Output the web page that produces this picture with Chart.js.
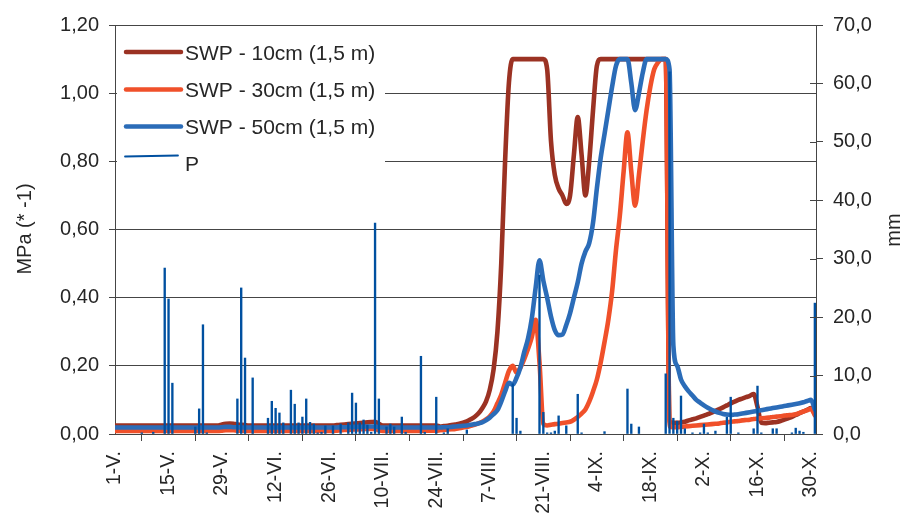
<!DOCTYPE html>
<html>
<head>
<meta charset="utf-8">
<script src="https://cdn.jsdelivr.net/npm/chart.js@4.4.1/dist/chart.umd.min.js"></script>
<style>
  html, body { margin: 0; padding: 0; background: #fff; }
  #wrap { width: 901px; height: 514px; position: relative; }
</style>
</head>
<body>
<div id="wrap"><canvas id="swp-chart"></canvas></div>
<script>
// Dni sezony: index 0 = 1-V., 183 = 31-X.
const tickLabels = ['1-V.', '15-V.', '29-V.', '12-VI.', '26-VI.', '10-VII.', '24-VII.',
    '7-VIII.', '21-VIII.', '4-IX.', '18-IX.', '2-X.', '16-X.', '30-X.'];

const seriesNames = ['SWP - 10cm (1,5 m)', 'SWP - 30cm (1,5 m)', 'SWP - 50cm (1,5 m)', 'P'];

// SWP - 10cm, MPa (* -1), denne hodnoty
const swp10 = [
    0.025, 0.025, 0.025, 0.025, 0.025, 0.025, 0.025, 0.025, 0.025, 0.025,
    0.025, 0.025, 0.025, 0.025, 0.025, 0.025, 0.025, 0.025, 0.025, 0.025,
    0.025, 0.025, 0.025, 0.025, 0.025, 0.025, 0.025, 0.025,
    0.028, 0.030, 0.031, 0.030, 0.028, 0.027, 0.026,
    0.025, 0.025, 0.025, 0.025, 0.025, 0.025, 0.025, 0.025, 0.025, 0.025,
    0.025, 0.025, 0.025, 0.025, 0.025, 0.025, 0.025, 0.025, 0.025, 0.025,
    0.025, 0.025, 0.025,
    0.026, 0.027, 0.028, 0.029, 0.030, 0.031, 0.032, 0.033, 0.034, 0.035, 0.036, 0.030,
    0.025, 0.025, 0.025, 0.025, 0.025, 0.025, 0.025, 0.025, 0.025, 0.025,
    0.025, 0.025, 0.025, 0.025, 0.025,
    0.022, 0.023, 0.024, 0.026, 0.028,
    0.030, 0.033, 0.037, 0.043, 0.050, 0.060, 0.075, 0.095, 0.130, 0.190,
    0.300, 0.500, 0.800, 1.030, 1.100, 1.100, 1.100, 1.100, 1.100, 1.100,
    1.100, 1.100, 1.100, 1.070, 0.860, 0.760, 0.720, 0.700, 0.675, 0.700,
    0.820, 0.930, 0.820, 0.700, 0.800, 0.950, 1.080, 1.100, 1.100, 1.100,
    1.100, 1.100, 1.100, 1.100, 1.100, 1.100, 1.100, 1.100, 1.100, 1.100,
    1.100, 1.100, 1.100, 1.100, 1.100,
    0.035, 0.033, 0.033, 0.034, 0.036,
    0.040, 0.043, 0.046, 0.050, 0.054, 0.058, 0.063, 0.068, 0.073, 0.078,
    0.084, 0.090, 0.095, 0.100, 0.104, 0.108, 0.112, 0.117, 0.080, 0.033,
    0.032, 0.033, 0.034, 0.035, 0.038, 0.042, 0.046, 0.050, 0.056, 0.061,
    0.066, 0.071, 0.076, 0.058
];

// SWP - 30cm
const swp30 = [
    0.009, 0.009, 0.009, 0.009, 0.009, 0.009, 0.009, 0.009, 0.009, 0.009,
    0.009, 0.009, 0.009, 0.009, 0.009, 0.009, 0.009, 0.009, 0.009, 0.009,
    0.009, 0.009, 0.009, 0.009, 0.009, 0.009, 0.009, 0.009,
    0.010, 0.011, 0.011, 0.011, 0.010, 0.010, 0.009,
    0.009, 0.009, 0.009, 0.009, 0.009, 0.009, 0.009, 0.009, 0.009, 0.009,
    0.009, 0.009, 0.009, 0.009, 0.009, 0.009, 0.009, 0.009, 0.009, 0.009,
    0.009, 0.009, 0.009,
    0.010, 0.011, 0.012, 0.012, 0.013, 0.013, 0.014, 0.014, 0.015, 0.015, 0.015, 0.011,
    0.009, 0.009, 0.009, 0.009, 0.009, 0.009, 0.009, 0.009, 0.009, 0.009,
    0.009, 0.010, 0.010, 0.010, 0.010,
    0.011, 0.012, 0.013, 0.014, 0.015,
    0.017, 0.019, 0.021, 0.024, 0.027, 0.031, 0.036, 0.043, 0.052, 0.066,
    0.090, 0.115, 0.150, 0.185, 0.200, 0.180, 0.195, 0.220, 0.250, 0.285,
    0.335, 0.210, 0.030, 0.025, 0.027, 0.029, 0.030, 0.032, 0.034, 0.036,
    0.042, 0.050, 0.060, 0.072, 0.095, 0.125, 0.160, 0.210, 0.270, 0.335,
    0.420, 0.540, 0.640, 0.770, 0.885, 0.770, 0.670, 0.760, 0.860, 0.950,
    1.020, 1.070, 1.090, 1.100, 1.100,
    0.022, 0.020, 0.020, 0.021, 0.022,
    0.023, 0.024, 0.025, 0.026, 0.027, 0.028, 0.029, 0.030, 0.031, 0.033,
    0.034, 0.036, 0.037, 0.038, 0.040, 0.041, 0.042, 0.044, 0.045, 0.046,
    0.047, 0.048, 0.050, 0.051, 0.052, 0.054, 0.055, 0.056, 0.058, 0.062,
    0.066, 0.070, 0.074, 0.055
];

// SWP - 50cm
const swp50 = [
    0.019, 0.019, 0.019, 0.019, 0.019, 0.019, 0.019, 0.019, 0.019, 0.019,
    0.019, 0.019, 0.019, 0.019, 0.019, 0.019, 0.019, 0.019, 0.019, 0.019,
    0.019, 0.019, 0.019, 0.019, 0.019, 0.019, 0.019, 0.019,
    0.020, 0.021, 0.021, 0.020, 0.020, 0.019, 0.019,
    0.019, 0.019, 0.019, 0.019, 0.019, 0.019, 0.019, 0.019, 0.019, 0.019,
    0.019, 0.019, 0.019, 0.019, 0.019, 0.019, 0.019, 0.019, 0.019, 0.019,
    0.019, 0.019, 0.019,
    0.019, 0.020, 0.020, 0.020, 0.021, 0.021, 0.021, 0.022, 0.022, 0.022, 0.022, 0.020,
    0.019, 0.019, 0.019, 0.019, 0.019, 0.019, 0.019, 0.019, 0.019, 0.019,
    0.019, 0.019, 0.019, 0.019, 0.019,
    0.019, 0.020, 0.020, 0.021, 0.022,
    0.023, 0.024, 0.025, 0.027, 0.029, 0.031, 0.034, 0.040, 0.048, 0.058,
    0.070, 0.095, 0.125, 0.150, 0.145, 0.165, 0.195, 0.240, 0.280, 0.340,
    0.430, 0.510, 0.450, 0.400, 0.345, 0.305, 0.290, 0.292, 0.320, 0.355,
    0.400, 0.445, 0.500, 0.535, 0.560, 0.620, 0.720, 0.810, 0.880, 0.950,
    1.020, 1.080, 1.100, 1.100, 1.100, 1.030, 0.950, 1.000, 1.060, 1.100,
    1.100, 1.100, 1.100, 1.100, 1.100,
    1.070, 0.260, 0.200, 0.160, 0.140,
    0.125, 0.113, 0.100, 0.092, 0.084, 0.077, 0.071, 0.066, 0.062, 0.059,
    0.057, 0.056, 0.057, 0.058, 0.060, 0.062, 0.064, 0.066, 0.068, 0.070,
    0.072, 0.074, 0.076, 0.078, 0.080, 0.082, 0.084, 0.086, 0.088, 0.090,
    0.093, 0.097, 0.100, 0.072
];

// P (mm) - jen dny se srazkou
const rainDay = [7, 10, 13, 14, 15, 21, 22, 23, 24, 32, 33, 34, 36, 40, 41, 42, 43, 44,
    46, 47, 48, 49, 50, 51, 52, 53, 54, 55, 57, 59, 61, 62, 63, 64, 65, 66, 67, 68, 69,
    71, 72, 73, 75, 76, 80, 81, 84, 86, 87, 92, 104, 105, 106, 111, 112, 113, 114, 115,
    116, 118, 121, 122, 128, 134, 135, 137, 144, 145, 146, 147, 148, 149, 151, 153, 154,
    155, 157, 160, 161, 163, 167, 168, 169, 172, 173, 177, 178, 179, 180, 183];
const rainMm = [0.2, 0.3, 28.4, 23.1, 8.7, 1.2, 4.3, 18.7, 0.2, 6.0, 25.0, 13.0, 9.6, 2.7, 5.6, 4.4, 3.6, 1.9,
    7.5, 5.1, 1.9, 2.9, 6.0, 2.0, 1.7, 0.2, 0.3, 1.4, 1.4, 1.7, 1.9, 7.0, 5.3, 1.9, 2.4, 1.5, 0.3, 36.1, 6.0,
    1.2, 1.7, 1.2, 2.9, 0.3, 13.3, 0.3, 6.3, 0.2, 0.9, 0.7, 8.6, 2.7, 0.5, 27.2, 3.7, 0.2, 0.2, 0.5,
    3.1, 1.4, 6.8, 0.2, 0.4, 7.7, 1.7, 1.2, 10.3, 62.0, 2.7, 2.2, 6.5, 0.9, 0.2, 0.2, 1.7,
    0.2, 0.5, 2.9, 6.3, 0.2, 0.9, 8.2, 0.2, 0.9, 0.9, 0.2, 1.0, 0.5, 0.3, 22.4];

const colors = {
    swp10: '#9b3223',
    swp30: '#f0502a',
    swp50: '#2b6cb8',
    rain: '#0050a0',
    text: '#262626',
    grid: '#454545'
};

const FONT = '"Liberation Sans", Arial, sans-serif';
Chart.defaults.font.family = FONT;
Chart.defaults.color = colors.text;

function toPoints(arr) {
    return arr.map((v, i) => ({ x: i, y: v }));
}

function lineSet(label, data, color, order) {
    return {
        type: 'line',
        label: label,
        data: toPoints(data),
        borderColor: color,
        backgroundColor: color,
        borderWidth: 4.6,
        pointRadius: 0,
        cubicInterpolationMode: 'monotone',
        borderJoinStyle: 'round',
        borderCapStyle: 'round',
        yAxisID: 'y',
        order: order
    };
}

// legenda uvnitr grafu + nazvy os
const decorPlugin = {
    id: 'decor',
    beforeDatasetsDraw(chart) {
        const ctx = chart.ctx;
        ctx.save();
        ctx.fillStyle = '#fff';
        ctx.fillRect(117, 30, 268, 150);

        const rows = [
            { y: 52, color: colors.swp10, base: 60 },
            { y: 89.5, color: colors.swp30, base: 97 },
            { y: 126.5, color: colors.swp50, base: 134 }
        ];
        ctx.lineCap = 'round';
        rows.forEach(r => {
            ctx.strokeStyle = r.color;
            ctx.lineWidth = 4.5;
            ctx.beginPath();
            ctx.moveTo(126, r.y);
            ctx.lineTo(181, r.y);
            ctx.stroke();
        });
        ctx.strokeStyle = colors.rain;
        ctx.lineWidth = 1.8;
        ctx.beginPath();
        ctx.moveTo(125, 156.5);
        ctx.lineTo(178, 155.5);
        ctx.stroke();

        ctx.fillStyle = colors.text;
        ctx.font = '21px ' + FONT;
        ctx.textAlign = 'left';
        ctx.textBaseline = 'alphabetic';
        rows.forEach((r, i) => ctx.fillText(seriesNames[i], 185, r.base));
        ctx.fillText(seriesNames[3], 185, 171);
        ctx.restore();
    },
    afterDraw(chart) {
        const ctx = chart.ctx;
        const area = chart.chartArea;
        ctx.save();
        // krizove znacky prave osy
        const y2 = chart.scales.y2;
        ctx.strokeStyle = colors.grid;
        ctx.lineWidth = 1;
        y2.ticks.forEach(t => {
            const py = Math.round(y2.getPixelForValue(t.value)) + 0.5;
            ctx.beginPath();
            ctx.moveTo(area.right - 6, py);
            ctx.lineTo(area.right, py);
            ctx.stroke();
        });

        ctx.fillStyle = colors.text;
        ctx.font = '20px ' + FONT;
        ctx.textAlign = 'center';
        ctx.textBaseline = 'alphabetic';
        ctx.translate(31, 229);
        ctx.rotate(-Math.PI / 2);
        ctx.fillText('MPa (* -1)', 0, 0);
        ctx.restore();

        ctx.save();
        ctx.fillStyle = colors.text;
        ctx.font = '20px ' + FONT;
        ctx.textAlign = 'center';
        ctx.textBaseline = 'alphabetic';
        ctx.translate(900, 230);
        ctx.rotate(-Math.PI / 2);
        ctx.fillText('mm', 0, 0);
        ctx.restore();
    }
};

new Chart(document.getElementById('swp-chart'), {
    type: 'bar',
    data: {
        datasets: [
            {
                type: 'bar',
                label: seriesNames[3],
                data: rainDay.map((d, i) => ({ x: d, y: rainMm[i] })),
                backgroundColor: colors.rain,
                barThickness: 1.7,
                yAxisID: 'y2',
                order: 0
            },
            lineSet(seriesNames[2], swp50, colors.swp50, 1),
            lineSet(seriesNames[1], swp30, colors.swp30, 2),
            lineSet(seriesNames[0], swp10, colors.swp10, 3)
        ]
    },
    options: {
        responsive: true,
        maintainAspectRatio: false,
        animation: false,
        events: [],
        layout: { padding: { top: 25, left: 0, right: 0, bottom: 0 } },
        plugins: {
            legend: { display: false },
            tooltip: { enabled: false }
        },
        scales: {
            x: {
                type: 'linear',
                min: 0,
                max: 183.3,
                offset: false,
                grid: { display: true, drawOnChartArea: false, drawTicks: true, tickLength: 7, color: colors.grid },
                border: { display: true, color: colors.grid, width: 1 },
                afterBuildTicks(scale) {
                    scale.ticks = tickLabels.map((_, i) => ({ value: i * 14 }));
                },
                afterFit(scale) { scale.height = 80; },
                ticks: {
                    autoSkip: false,
                    minRotation: 90,
                    maxRotation: 90,
                    padding: 10,
                    font: { size: 19.5 },
                    color: colors.text,
                    callback: (v, i) => tickLabels[i]
                }
            },
            y: {
                position: 'left',
                min: 0,
                max: 1.2,
                grid: { color: colors.grid, tickLength: 6 },
                border: { display: true, color: colors.grid },
                afterFit(scale) { scale.width = 115; },
                ticks: {
                    stepSize: 0.2,
                    padding: 10,
                    font: { size: 20 },
                    color: colors.text,
                    callback: v => v.toFixed(2).replace('.', ',')
                }
            },
            y2: {
                position: 'right',
                min: 0,
                max: 70,
                grid: { drawOnChartArea: false, drawTicks: true, tickLength: 7, color: colors.grid },
                border: { display: true, color: colors.grid },
                afterFit(scale) { scale.width = 85; },
                ticks: {
                    stepSize: 10,
                    padding: 10,
                    font: { size: 20 },
                    color: colors.text,
                    callback: v => v.toFixed(1).replace('.', ',')
                }
            }
        }
    },
    plugins: [decorPlugin]
});
</script>
</body>
</html>
